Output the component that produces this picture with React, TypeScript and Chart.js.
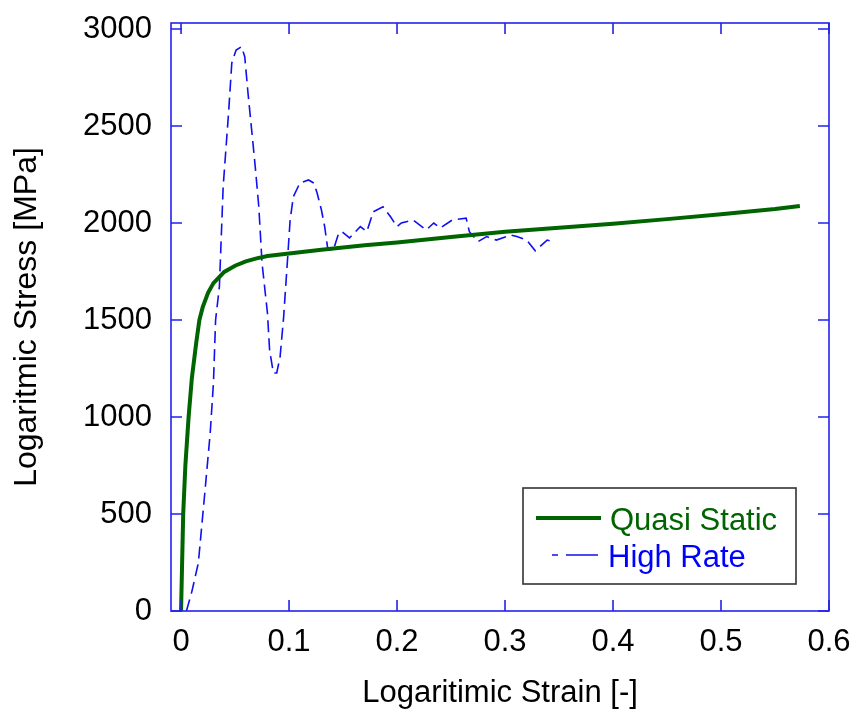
import { useEffect, useRef } from "react";
import { Chart, registerables } from "chart.js";

Chart.register(...registerables);

// ---- data ----
const QS_X = [0, 0.001, 0.002, 0.004, 0.007, 0.01, 0.014, 0.017, 0.02, 0.025, 0.03, 0.04, 0.05, 0.06, 0.07, 0.08, 0.1, 0.13, 0.17, 0.2, 0.25, 0.3, 0.35, 0.4, 0.45, 0.5, 0.55, 0.573];
const QS_Y = [0, 250, 500, 750, 1000, 1200, 1380, 1500, 1565, 1640, 1690, 1748, 1780, 1802, 1818, 1830, 1843, 1862, 1885, 1900, 1928, 1955, 1975, 1996, 2020, 2045, 2072, 2088];

const HR_X = [0.005, 0.01, 0.016, 0.022, 0.027, 0.03, 0.032, 0.0355, 0.039, 0.044, 0.047, 0.051, 0.056, 0.059, 0.062, 0.066, 0.069, 0.072, 0.075, 0.078, 0.08, 0.082, 0.0855, 0.0886, 0.0917, 0.095, 0.099, 0.101, 0.104, 0.11, 0.118, 0.123, 0.126, 0.13, 0.133, 0.136, 0.141, 0.146, 0.149, 0.156, 0.166, 0.172, 0.178, 0.187, 0.194, 0.2, 0.204, 0.215, 0.227, 0.234, 0.24, 0.251, 0.264, 0.267, 0.275, 0.283, 0.292, 0.305, 0.311, 0.32, 0.328, 0.339, 0.345];
const HR_Y = [0, 100, 247, 608, 917, 1175, 1500, 1672, 2187, 2567, 2825, 2892, 2909, 2857, 2670, 2445, 2273, 2084, 1794, 1639, 1536, 1345, 1227, 1227, 1309, 1515, 1845, 2015, 2136, 2206, 2222, 2206, 2155, 2067, 1981, 1861, 1861, 1948, 1955, 1923, 1981, 1955, 2058, 2084, 2032, 1981, 2000, 2015, 1964, 2000, 1974, 2015, 2025, 1955, 1904, 1930, 1912, 1938, 1930, 1912, 1857, 1912, 1904];

const X_TICKS = [0, 0.1, 0.2, 0.3, 0.4, 0.5, 0.6];
const Y_TICKS = [0, 500, 1000, 1500, 2000, 2500, 3000];

const SERIES_LABELS = ["Quasi Static", "High Rate"];
const X_TITLE = "Logaritimic Strain [-]";
const Y_TITLE = "Logaritmic Stress [MPa]";

// ---- style ----
const X_MIN = -0.0093;
const X_MAX = 0.6;
const Y_MIN = 0;
const Y_MAX = 3031;
const GREEN = "#006400";
const BLUE = "#1010f0";
const AXIS_BLUE = "#2222ee";
const FONT_FAMILY = "'Liberation Sans', Arial, sans-serif";
const FONT_SIZE = 31;

const zeroPad = (s: any) => {
  s.paddingTop = 0;
  s.paddingBottom = 0;
  s.paddingLeft = 0;
  s.paddingRight = 0;
};

const framePlugin = {
  id: "frame",
  afterDraw(chart: any) {
    const { ctx, chartArea: a, scales } = chart;
    ctx.save();
    ctx.strokeStyle = AXIS_BLUE;
    ctx.lineWidth = 1.6;
    ctx.strokeRect(a.left, a.top, a.right - a.left, a.bottom - a.top);
    const L = 11;
    ctx.beginPath();
    scales.x.ticks.forEach((t: any) => {
      const px = scales.x.getPixelForValue(t.value);
      ctx.moveTo(px, a.bottom);
      ctx.lineTo(px, a.bottom - L);
      ctx.moveTo(px, a.top);
      ctx.lineTo(px, a.top + L);
    });
    scales.y.ticks.forEach((t: any) => {
      const py = scales.y.getPixelForValue(t.value);
      ctx.moveTo(a.left, py);
      ctx.lineTo(a.left + L, py);
      ctx.moveTo(a.right, py);
      ctx.lineTo(a.right - L, py);
    });
    ctx.stroke();
    ctx.restore();
  },
};

const legendPlugin = {
  id: "customLegend",
  afterDraw(chart: any) {
    const { ctx } = chart;
    const ds = chart.data.datasets;
    ctx.save();
    const bx = 523, by = 488, bw = 273, bh = 96;
    ctx.fillStyle = "#ffffff";
    ctx.fillRect(bx, by, bw, bh);
    ctx.strokeStyle = "#333333";
    ctx.lineWidth = 1.6;
    ctx.strokeRect(bx, by, bw, bh);

    ctx.strokeStyle = ds[0].borderColor;
    ctx.lineWidth = 4;
    ctx.beginPath();
    ctx.moveTo(536, 518);
    ctx.lineTo(601, 518);
    ctx.stroke();

    ctx.strokeStyle = ds[1].borderColor;
    ctx.lineWidth = 1.6;
    ctx.beginPath();
    ctx.moveTo(552, 555);
    ctx.lineTo(558, 555);
    ctx.moveTo(566, 555);
    ctx.lineTo(598, 555);
    ctx.stroke();

    ctx.font = `${FONT_SIZE}px ${FONT_FAMILY}`;
    ctx.textBaseline = "alphabetic";
    ctx.textAlign = "left";
    ctx.fillStyle = ds[0].borderColor;
    ctx.fillText(ds[0].label, 610, 530);
    ctx.fillStyle = "#0000ff";
    ctx.fillText(ds[1].label, 608, 567);
    ctx.restore();
  },
};

export default function App() {
  const ref = useRef<HTMLCanvasElement>(null);
  useEffect(() => {
    document.body.style.margin = "0";
    const font = { family: FONT_FAMILY, size: FONT_SIZE };
    const chart = new Chart(ref.current as HTMLCanvasElement, {
      type: "scatter",
      data: {
        datasets: [
          {
            label: SERIES_LABELS[0],
            data: QS_X.map((x, i) => ({ x, y: QS_Y[i] })),
            showLine: true,
            borderColor: GREEN,
            backgroundColor: GREEN,
            borderWidth: 4,
            pointRadius: 0,
            tension: 0,
          },
          {
            label: SERIES_LABELS[1],
            data: HR_X.map((x, i) => ({ x, y: HR_Y[i] })),
            showLine: true,
            borderColor: BLUE,
            backgroundColor: BLUE,
            borderWidth: 1.6,
            borderDash: [12, 6],
            pointRadius: 0,
            tension: 0,
          },
        ],
      },
      options: {
        responsive: false,
        animation: false,
        layout: { padding: { top: 23, right: 29, left: 0, bottom: 0 } },
        plugins: { legend: { display: false }, tooltip: { enabled: false } },
        scales: {
          x: {
            type: "linear",
            min: X_MIN,
            max: X_MAX,
            afterBuildTicks: (s: any) => {
              s.ticks = X_TICKS.map((v) => ({ value: v }));
            },
            afterFit: (s: any) => {
              s.height = 107;
              zeroPad(s);
            },
            grid: { display: false },
            border: { display: false },
            ticks: {
              color: "#000",
              font,
              padding: 5,
              maxRotation: 0,
              autoSkip: false,
              callback: (v: any) => String(v),
            },
            title: {
              display: true,
              text: X_TITLE,
              color: "#000",
              font,
              padding: { top: 0, bottom: 6 },
            },
          },
          y: {
            type: "linear",
            min: Y_MIN,
            max: Y_MAX,
            afterBuildTicks: (s: any) => {
              s.ticks = Y_TICKS.map((v) => ({ value: v }));
            },
            afterFit: (s: any) => {
              s.width = 171;
              zeroPad(s);
            },
            grid: { display: false },
            border: { display: false },
            ticks: {
              color: "#000",
              font,
              padding: 11,
              autoSkip: false,
              callback: (v: any) => String(v),
            },
            title: {
              display: true,
              text: Y_TITLE,
              color: "#000",
              font: { family: FONT_FAMILY, size: 32 },
              padding: { top: 8, bottom: 0 },
            },
          },
        },
      },
      plugins: [framePlugin, legendPlugin],
    });
    return () => chart.destroy();
  }, []);
  return <canvas ref={ref} width={858} height={718} style={{ display: "block" }} />;
}
